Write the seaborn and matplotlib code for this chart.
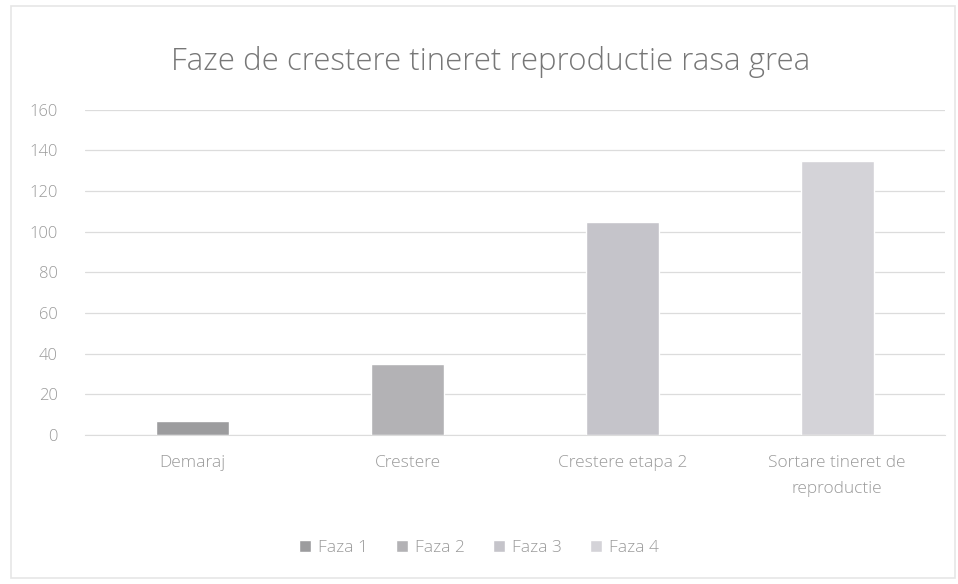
import pandas as pd
import seaborn as sns
import matplotlib.pyplot as plt

# date
categorii = ['Demaraj', 'Crestere', 'Crestere etapa 2', 'Sortare tineret de reproductie']
etichete = ['Demaraj', 'Crestere', 'Crestere etapa 2', 'Sortare tineret de\nreproductie']
faze = ['Faza 1', 'Faza 2', 'Faza 3', 'Faza 4']
valori = [7, 35, 105, 135]
culori = ['#9c9c9e', '#b3b2b5', '#c4c3cb', '#d3d2d9']

df = pd.DataFrame({'Categorie': categorii, 'Faza': faze, 'Zile': valori})

sns.set_style('white')
plt.rcParams['font.family'] = ['Open Sans', 'DejaVu Sans']
plt.rcParams['font.weight'] = 'light'

fig = plt.figure(figsize=(9.58, 5.84), dpi=100)
ax = fig.add_axes([0.089, 0.255, 0.897, 0.557])

sns.barplot(data=df, x='Categorie', y='Zile', hue='Faza', palette=culori,
            dodge=False, width=0.34, ax=ax, legend=True)

ax.set_ylim(0, 160)
ax.set_yticks(range(0, 161, 20))
ax.set_xticks(range(len(etichete)))
ax.set_xticklabels(etichete, linespacing=1.9, fontsize=12.5)
ax.set_xlabel('')
ax.set_ylabel('')
ax.grid(axis='y', color='#dcdcdc', linewidth=0.9)
ax.set_axisbelow(True)
for s in ['top', 'right', 'left']:
    ax.spines[s].set_visible(False)
ax.spines['bottom'].set_color('#dcdcdc')
ax.tick_params(axis='both', length=0, labelsize=12, colors='#9a9a9a', pad=14)
ax.tick_params(axis='x', labelsize=12.5)
ax.tick_params(axis='y', pad=20)

fig.text(0.512, 0.893, 'Faze de crestere tineret reproductie rasa grea',
         ha='center', va='center', fontsize=22.5, color='#777777')

ax.legend(loc='center', bbox_to_anchor=(0.5, 0.062), bbox_transform=fig.transFigure,
          ncol=4, frameon=False, fontsize=12.5, labelcolor='#9a9a9a',
          handlelength=0.7, handleheight=0.7, handletextpad=0.4, columnspacing=1.6)

fig.patches.append(plt.Rectangle((0.012, 0.01), 0.985, 0.98, transform=fig.transFigure,
                                 fill=False, edgecolor='#e6e6e6', linewidth=1.2))

plt.savefig('out.png', dpi=100)
